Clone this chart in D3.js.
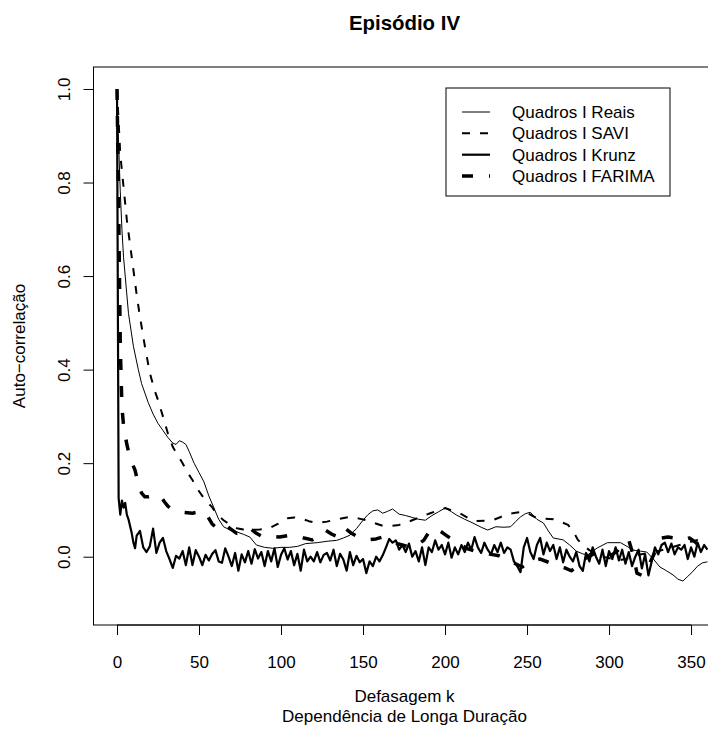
<!DOCTYPE html>
<html>
<head>
<meta charset="utf-8">
<script src="https://cdn.jsdelivr.net/npm/d3@7"></script>
<style>
  html, body { margin: 0; padding: 0; background: #fff; }
  svg { display: block; font-family: "Liberation Sans", Arial, Helvetica, sans-serif; }
</style>
</head>
<body>
<svg id="chart" width="708" height="735"></svg>
<script>
// ---------------- data ----------------
const title = "Episódio IV";
const xLabel1 = "Defasagem k";
const xLabel2 = "Dependência de Longa Duração";
const yLabel = "Auto\u2212correlação";
const xTicks = [0, 50, 100, 150, 200, 250, 300, 350];
const yTicks = [0.0, 0.2, 0.4, 0.6, 0.8, 1.0];
const seriesNames = ["Quadros I Reais", "Quadros I SAVI", "Quadros I Krunz", "Quadros I FARIMA"];

const reaisLag = [0,1,2,3,4,5,7,10,13,15,19,22,25,28,31,34,36,38,40,42,44,47,50,53,56,59,62,65,69,73,77,81,85,90,95,100,105,110,115,122,128,134,138,142,146,150,153,156,159,162,165,168,172,176,180,184,188,192,196,200,204,207,212,217,222,226,231,236,240,243,246,249,252,256,260,263,266,272,276,280,284,287,290,293,299,303,307,311,315,319,323,327,331,335,339,342,345,348,351,354,357,360];
const reaisVal = [1.0,0.88,0.78,0.70,0.64,0.60,0.52,0.45,0.40,0.37,0.33,0.305,0.285,0.27,0.255,0.243,0.24,0.248,0.245,0.24,0.225,0.20,0.18,0.16,0.13,0.105,0.08,0.064,0.057,0.053,0.048,0.042,0.025,0.02,0.018,0.02,0.02,0.022,0.028,0.03,0.033,0.035,0.04,0.046,0.06,0.078,0.09,0.098,0.10,0.093,0.097,0.102,0.091,0.088,0.084,0.08,0.078,0.088,0.096,0.104,0.096,0.089,0.08,0.072,0.063,0.057,0.064,0.063,0.064,0.075,0.085,0.092,0.095,0.08,0.072,0.055,0.04,0.036,0.025,0.012,0.006,0.004,0.012,0.019,0.03,0.03,0.03,0.022,0.014,0.012,0.01,-0.005,-0.022,-0.03,-0.039,-0.048,-0.052,-0.042,-0.032,-0.02,-0.013,-0.011];

const saviLag = [0,1,2,4,6,9,12,14,17,20,23,25,28,31,34,37,40,43,46,50,54,58,61,65,69,73,77,81,87,93,98,104,108,112,117,122,128,134,142,147,152,157,162,167,172,176,180,185,191,196,200,205,210,214,218,224,229,234,238,243,248,252,256,261,266,271,275,278,281,285,288,292,296,301,307,312,318,324,330,336,342,348,354,360];
const saviVal = [1.0,0.93,0.86,0.79,0.72,0.64,0.56,0.513,0.45,0.393,0.355,0.335,0.30,0.264,0.235,0.217,0.20,0.18,0.164,0.14,0.12,0.106,0.09,0.078,0.068,0.061,0.058,0.057,0.058,0.061,0.07,0.082,0.084,0.082,0.076,0.072,0.075,0.08,0.085,0.082,0.078,0.072,0.066,0.066,0.068,0.072,0.078,0.085,0.093,0.099,0.104,0.098,0.091,0.083,0.076,0.077,0.078,0.085,0.091,0.094,0.096,0.09,0.082,0.081,0.08,0.074,0.068,0.055,0.036,0.022,0.014,0.006,0.0,-0.004,-0.007,-0.003,0.004,0.008,0.012,0.018,0.024,0.03,0.036,0.04];

const krunzLag = [0,1,2,3,4,5,6,7,8,9,10,11,12,14,16,18,20,22,24,26,28,30,32,34,36,38,40,42,44,46,48,50,52,54,56,58,60,62,64,66,68,70,72,74,76,78,80,82,84,86,88,90,92,94,96,98,100,102,104,106,108,110,112,114,116,118,120,122,124,126,128,130,132,134,136,138,140,142,144,146,148,150,152,154,156,158,160,162,164,166,168,170,172,174,176,178,180,182,184,186,188,190,192,194,196,198,200,202,204,206,208,210,212,214,216,218,220,222,224,226,228,230,232,234,236,238,240,242,244,246,248,250,252,254,256,258,260,262,264,266,268,270,272,274,276,278,280,282,284,286,288,290,292,294,296,298,300,302,304,306,308,310,312,314,316,318,320,322,324,326,328,330,332,334,336,338,340,342,344,346,348,350,352,354,356,358,360];
const krunzVal = [1.0,0.125,0.09,0.12,0.105,0.115,0.09,0.08,0.065,0.05,0.03,0.018,0.045,0.055,0.02,0.01,0.022,0.06,0.008,0.03,0.04,0.012,-0.005,-0.024,0.002,-0.004,0.012,-0.018,0.02,-0.018,0.014,0.0,-0.018,0.004,-0.008,0.006,0.014,-0.01,-0.013,0.018,0.0,-0.02,0.008,-0.03,0.005,-0.012,0.012,-0.015,0.016,-0.004,0.01,-0.02,0.012,-0.01,0.018,-0.022,0.004,0.018,-0.006,0.012,-0.018,0.006,-0.03,0.015,-0.01,0.0,-0.01,0.01,-0.012,0.004,0.008,-0.008,0.015,-0.02,0.006,-0.006,-0.03,0.01,-0.018,0.002,-0.012,-0.005,-0.035,-0.01,-0.02,0.0,-0.01,0.003,0.02,0.038,0.03,0.035,0.015,0.025,0.01,0.028,0.0,0.012,-0.01,0.02,-0.018,0.02,0.01,0.035,0.015,0.025,0.005,0.03,-0.002,0.02,0.005,0.025,0.01,0.03,0.015,0.042,0.02,0.008,0.03,0.015,0.005,0.025,0.01,0.03,0.008,0.02,0.015,-0.01,-0.02,-0.033,0.02,0.04,0.01,-0.005,0.025,0.04,0.005,0.03,0.012,0.025,-0.005,0.02,-0.012,0.015,0.0,-0.01,0.01,-0.02,-0.03,0.008,-0.01,0.02,0.0,-0.015,0.015,-0.02,0.012,-0.005,0.02,-0.008,0.015,-0.015,0.01,-0.02,0.0,0.015,-0.025,0.005,-0.04,-0.01,0.02,0.005,0.025,0.03,0.01,0.028,0.005,0.02,0.015,0.025,-0.005,0.02,0.0,0.03,0.01,0.025,0.015];

const farimaLag = [0,1,2,3,4,6,8,11,13,15,17,19,22,26,29,31,34,37,40,43,46,50,54,56,58,60,63,65,69,73,77,81,85,89,94,99,104,109,114,119,123,127,131,135,139,143,147,153,158,162,166,171,175,179,183,187,191,195,199,203,208,213,218,223,228,233,238,243,247,252,258,264,269,273,277,281,285,290,295,300,305,309,312,315,317,320,324,328,332,336,340,344,349,353,357,360];
const farimaVal = [1.0,0.75,0.45,0.32,0.28,0.24,0.21,0.185,0.155,0.136,0.128,0.128,0.13,0.132,0.117,0.108,0.10,0.097,0.095,0.094,0.093,0.096,0.095,0.082,0.07,0.064,0.07,0.072,0.06,0.05,0.055,0.061,0.05,0.042,0.044,0.042,0.045,0.046,0.04,0.036,0.045,0.057,0.048,0.042,0.061,0.05,0.042,0.036,0.038,0.042,0.035,0.028,0.024,0.02,0.025,0.035,0.057,0.06,0.05,0.04,0.03,0.018,0.012,0.01,0.005,0.002,-0.005,-0.015,-0.022,-0.01,-0.005,-0.013,-0.02,-0.024,-0.03,-0.02,-0.005,0.005,0.01,0.0,0.012,0.03,0.036,0.0,-0.035,-0.04,-0.02,0.01,0.04,0.042,0.04,0.035,0.04,0.03,0.014,0.01];

// ---------------- layout ----------------
const svg = d3.select("#chart");
const plot = { left: 93.5, right: 715.5, top: 67, bottom: 625 };
const x = d3.scaleLinear().domain([-14.33, 364.9]).range([plot.left, plot.right]);
const y = d3.scaleLinear().domain([-0.146, 1.047]).range([plot.bottom, plot.top]);
const fontSize = 17;

svg.append("defs").append("clipPath").attr("id", "clip")
  .append("rect")
  .attr("x", plot.left).attr("y", plot.top)
  .attr("width", plot.right - plot.left).attr("height", plot.bottom - plot.top);

const styles = [
  { w: 1, dash: null },
  { w: 2, dash: "8,10" },
  { w: 2.2, dash: null },
  { w: 3.5, dash: "11,16" }
];
const series = [
  { lag: reaisLag, val: reaisVal },
  { lag: saviLag, val: saviVal },
  { lag: krunzLag, val: krunzVal },
  { lag: farimaLag, val: farimaVal }
];

const line = d3.line().x(d => x(d[0])).y(d => y(d[1]));
const g = svg.append("g").attr("clip-path", "url(#clip)");
series.forEach((s, i) => {
  const pts = s.lag.map((l, j) => [l, s.val[j]]);
  g.append("path")
    .attr("d", line(pts))
    .attr("fill", "none")
    .attr("stroke", "#000")
    .attr("stroke-width", styles[i].w)
    .attr("stroke-linejoin", "round")
    .attr("stroke-dasharray", styles[i].dash);
});

// box
svg.append("rect")
  .attr("x", plot.left).attr("y", plot.top)
  .attr("width", plot.right - plot.left).attr("height", plot.bottom - plot.top)
  .attr("fill", "none").attr("stroke", "#000").attr("stroke-width", 1);

// x axis
const xAxis = d3.axisBottom(x).tickValues(xTicks).tickSize(10).tickPadding(21).tickFormat(d3.format("d"));
const gx = svg.append("g").attr("transform", `translate(0,${plot.bottom})`).call(xAxis);
gx.select(".domain").attr("d", `M${x(0)},0H${x(350)}`).attr("stroke", "#000");
gx.selectAll("line").attr("stroke", "#000");
gx.selectAll("text").attr("font-size", fontSize).attr("font-family", "Liberation Sans, Arial, sans-serif").attr("fill", "#000");

// y axis
const yAxis = d3.axisLeft(y).tickValues(yTicks).tickSize(10).tickFormat(d3.format(".1f"));
const gy = svg.append("g").attr("transform", `translate(${plot.left},0)`).call(yAxis);
gy.select(".domain").attr("d", `M0,${y(0)}V${y(1)}`).attr("stroke", "#000");
gy.selectAll("line").attr("stroke", "#000");
gy.selectAll("text")
  .attr("font-size", fontSize).attr("font-family", "Liberation Sans, Arial, sans-serif").attr("fill", "#000")
  .attr("x", null).attr("dy", null)
  .attr("text-anchor", "middle")
  .attr("transform", d => `translate(${70 - plot.left},0) rotate(-90)`)
  .attr("y", 0);

// titles
svg.append("text").attr("x", 404.5).attr("y", 30).attr("text-anchor", "middle")
  .attr("font-size", 20.4).attr("font-weight", "bold").text(title);
svg.append("text").attr("x", 404.5).attr("y", 702).attr("text-anchor", "middle")
  .attr("font-size", fontSize).text(xLabel1);
svg.append("text").attr("x", 404.5).attr("y", 722).attr("text-anchor", "middle")
  .attr("font-size", fontSize).text(xLabel2);
svg.append("text").attr("transform", `translate(25,346) rotate(-90)`).attr("text-anchor", "middle")
  .attr("font-size", fontSize).text(yLabel);

// legend
const leg = { x: 446, y: 88, w: 224, h: 108 };
svg.append("rect").attr("x", leg.x).attr("y", leg.y).attr("width", leg.w).attr("height", leg.h)
  .attr("fill", "#fff").attr("stroke", "#000").attr("stroke-width", 1);
const legRows = [112, 133.3, 154.7, 176];
seriesNames.forEach((name, i) => {
  svg.append("line")
    .attr("x1", 462).attr("x2", 490).attr("y1", legRows[i]).attr("y2", legRows[i])
    .attr("stroke", "#000").attr("stroke-width", styles[i].w)
    .attr("stroke-dasharray", styles[i].dash);
  svg.append("text").attr("x", 512).attr("y", legRows[i]).attr("dy", "0.36em")
    .attr("font-size", fontSize).text(name);
});
</script>
</body>
</html>
